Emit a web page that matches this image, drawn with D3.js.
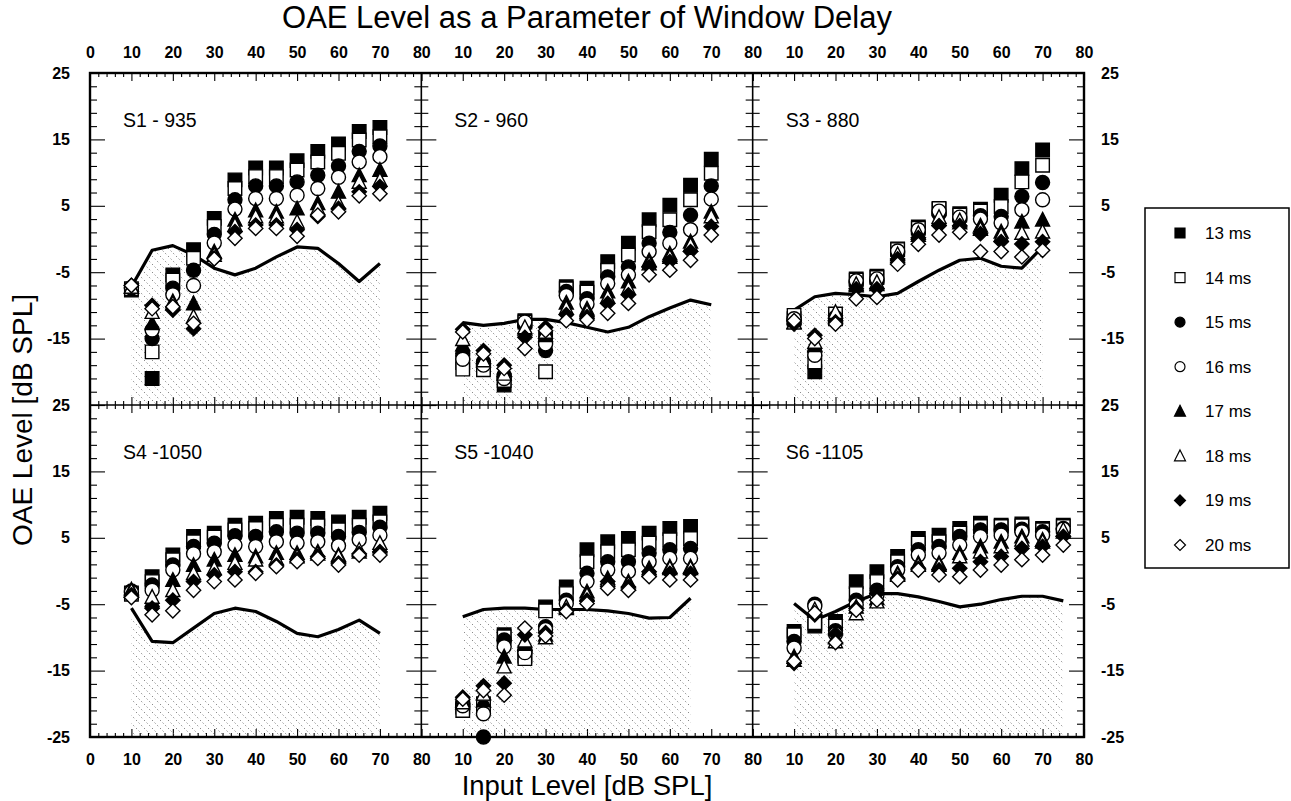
<!DOCTYPE html>
<html><head><meta charset="utf-8">
<script src="https://cdn.jsdelivr.net/npm/d3@7"></script>
<style>
body{margin:0;background:#fff}
svg text{font-family:"Liberation Sans",Arial,sans-serif;fill:#000}
</style>
</head><body>
<svg id="chart" width="1291" height="801"></svg>
<script>
// ---------------- data ----------------
const delays = ["13 ms","14 ms","15 ms","16 ms","17 ms","18 ms","19 ms","20 ms"];
const symbols = ["square","square","circle","circle","triangle","triangle","diamond","diamond"];
const filled  = [true,false,true,false,true,false,true,false];
const xTicks = [0,10,20,30,40,50,60,70,80];
const yTicks = [25,15,5,-5,-15,-25];
const titles = ["S1 - 935","S2 - 960","S3 - 880","S4 -1050","S5 -1040","S6 -1105"];

const lev70 = [10,15,20,25,30,35,40,45,50,55,60,65,70];
const lev65 = [10,15,20,25,30,35,40,45,50,55,60,65];
const lev75 = [10,15,20,25,30,35,40,45,50,55,60,65,70,75];

// series rows: 13,14,15,16,17,18,19,20 ms
const S1 = [
 [-7.7,-21,-5.4,-1.6,3.1,8.9,10.7,10.7,11.8,13.2,14.3,16.2,16.8],
 [-7.5,-17,-6.2,-2.9,1.9,7.6,9.4,9.4,10.4,11.6,12.9,14.9,15.4],
 [-7.4,-15,-7.4,-4.7,0.7,5.9,8.0,8.0,8.6,9.6,11.0,13.2,14.0],
 [-7.3,-13.7,-8.4,-7.0,-0.6,4.5,6.1,6.1,6.6,7.6,9.3,11.6,12.4],
 [-7.2,-12.7,-9.4,-9.7,-1.9,2.9,4.3,4.1,4.6,5.4,7.1,9.6,10.4],
 [-7.2,-11,-9.7,-11.7,-2.4,2.1,3.4,3.4,2.6,4.6,5.4,8.6,8.9],
 [-7.0,-10,-10.7,-13.5,-2.9,1.1,2.1,2.1,1.4,3.4,4.6,7.1,7.9],
 [-7.0,-10.5,-10.2,-12.7,-3.0,0.1,1.6,1.6,0.4,3.6,4.1,6.5,6.8]];
const S1_floor = [-7.2,-1.7,-1.0,-2.4,-4.4,-5.4,-4.4,-2.7,-1.2,-1.4,-3.7,-6.4,-3.7];

const S2 = [
 [-18.6,-19.3,-22.0,-12.3,-15.0,-7.2,-7.4,-3.4,-0.65,2.9,5.1,8.1,12.0],
 [-19.6,-19.7,-21.3,-12.5,-20.0,-7.5,-8.0,-4.7,-2.4,1.1,2.9,5.9,9.9],
 [-17.3,-18.5,-20.5,-13.0,-16.8,-7.9,-9.0,-5.7,-4.2,-0.65,1.0,3.6,8.0],
 [-18.1,-19.0,-21.0,-12.5,-15.8,-8.5,-9.8,-6.7,-5.4,-1.9,-0.65,1.4,6.0],
 [-15.9,-17.8,-19.8,-13.5,-14.5,-9.6,-10.5,-7.9,-6.4,-3.2,-2.2,-0.4,4.1],
 [-15.1,-18.3,-20.3,-13.3,-14.0,-10.4,-11.0,-8.7,-7.4,-3.7,-2.7,-0.9,3.4],
 [-13.6,-16.8,-19.0,-14.8,-13.3,-11.4,-11.7,-9.7,-8.4,-4.2,-3.4,-1.9,1.9],
 [-14.0,-17.3,-19.5,-16.5,-13.8,-12.3,-12.2,-11.2,-9.7,-5.4,-4.7,-3.2,0.6]];
const S2_floor = [-12.6,-13.0,-12.7,-12.1,-12.1,-12.6,-13.3,-14.0,-13.3,-11.7,-10.4,-9.2,-9.9];

const S3 = [
 [-12.0,-20.0,-12.0,-6.0,-5.6,-1.5,1.8,4.5,3.8,4.5,6.6,10.6,13.4],
 [-11.5,-18.5,-11.3,-6.2,-5.8,-1.6,1.6,4.6,3.6,4.2,4.9,8.6,11.1],
 [-12.3,-17.0,-11.8,-6.5,-6.3,-2.0,1.2,3.8,3.0,3.5,3.4,6.4,8.5],
 [-12.0,-17.5,-12.3,-6.3,-6.0,-1.8,1.4,4.2,3.3,3.0,2.4,4.4,5.9],
 [-12.5,-16.0,-11.3,-7.0,-6.8,-2.6,0.6,3.0,2.5,2.0,1.1,2.6,2.9],
 [-12.6,-15.5,-11.0,-6.8,-6.5,-2.3,0.9,3.3,2.8,1.5,0.6,0.9,1.1],
 [-12.8,-14.5,-12.5,-7.5,-7.5,-3.0,0.2,2.0,2.0,0.8,-0.4,-0.75,-0.4],
 [-12.3,-15.0,-12.8,-9.0,-8.8,-3.8,-0.8,0.6,1.0,-1.9,-1.9,-2.7,-1.7]];
const S3_floor = [-10.7,-8.7,-8.2,-8.4,-8.7,-8.2,-6.4,-4.7,-3.2,-2.9,-4.1,-4.4,-1.2];

const S4 = [
 [-3.3,-0.85,2.4,5.2,5.7,6.9,7.2,7.9,8.1,7.9,7.4,8.1,8.7],
 [-3.5,-1.6,1.7,4.4,5.1,6.2,6.4,6.9,6.9,6.8,6.2,6.9,7.4],
 [-3.0,-2.1,0.9,3.7,4.2,5.3,5.2,5.9,5.7,5.7,5.2,5.8,6.6],
 [-3.2,-2.9,0.15,2.6,2.9,3.9,3.7,4.4,4.2,4.4,3.8,4.7,5.4],
 [-2.8,-4.4,-1.35,0.9,1.7,2.4,2.2,2.7,2.7,2.9,2.4,2.9,3.7],
 [-3.0,-3.9,-2.9,-0.35,0.4,1.2,1.7,1.9,2.2,2.6,2.2,3.2,4.2],
 [-3.6,-5.6,-4.4,-1.6,-0.6,-0.1,-0.1,0.9,1.7,2.2,1.2,2.6,2.9],
 [-4.0,-6.6,-6.0,-2.9,-1.6,-1.35,-0.35,0.65,1.4,1.9,0.9,2.4,2.4]];
const S4_floor = [-5.6,-10.6,-10.8,-8.6,-6.4,-5.6,-6.1,-7.6,-9.4,-9.9,-8.8,-7.4,-9.4];

const S5 = [
 [-20.5,-20.0,-9.6,-12.8,-5.4,-2.4,3.2,4.4,4.9,5.7,6.4,6.7],
 [-21.0,-20.5,-9.9,-13.2,-6.0,-3.4,1.4,2.9,3.2,4.2,4.7,4.9],
 [-20.0,-25.0,-10.4,-12.0,-8.4,-4.4,-0.35,1.4,1.4,2.7,3.2,3.4],
 [-20.3,-21.5,-11.4,-12.3,-8.8,-4.9,-1.6,0.15,-0.1,1.4,1.9,1.9],
 [-19.5,-19.5,-12.9,-11.0,-9.6,-5.6,-3.1,-1.1,-1.6,0.4,0.65,0.65],
 [-19.8,-18.5,-14.4,-10.5,-10.0,-5.4,-3.6,-1.35,-1.9,0.15,0.4,0.4],
 [-19.0,-17.3,-16.9,-9.6,-9.3,-5.9,-4.4,-1.6,-2.4,-0.1,-0.35,-0.35],
 [-19.3,-18.0,-18.7,-8.6,-9.8,-6.1,-4.9,-2.6,-2.9,-0.85,-1.35,-1.35]];
const S5_floor = [-6.9,-5.8,-5.6,-5.6,-5.8,-5.8,-5.8,-6.0,-6.4,-7.1,-7.0,-4.1];

const S6 = [
 [-9.1,-8.3,-7.6,-1.6,-0.1,2.2,4.9,5.4,6.4,7.2,6.9,7.1,6.4,6.9],
 [-9.6,-7.8,-8.3,-3.4,-1.6,1.4,4.2,4.4,5.7,6.7,6.7,6.8,6.2,6.7],
 [-10.6,-5.0,-9.0,-4.4,-2.9,0.65,3.2,3.7,5.2,6.2,6.2,6.3,5.9,6.4],
 [-11.6,-5.3,-9.5,-5.1,-3.6,0.15,2.4,2.7,3.9,5.2,5.4,5.9,5.4,6.3],
 [-12.9,-6.0,-10.0,-5.4,-4.1,-0.35,1.2,1.2,2.7,3.7,4.4,5.2,4.7,5.9],
 [-13.4,-5.8,-10.6,-6.4,-4.6,-0.6,0.9,0.9,2.2,2.9,3.7,4.7,4.4,6.2],
 [-13.9,-6.6,-9.5,-5.6,-3.4,-1.1,0.4,0.15,0.4,1.4,2.2,3.4,3.7,5.2],
 [-13.6,-6.3,-10.8,-5.9,-4.4,-1.35,0.15,-0.6,-0.85,0.15,0.9,1.7,2.4,3.9]];
const S6_floor = [-4.9,-7.4,-6.1,-4.6,-3.4,-3.4,-3.9,-4.6,-5.4,-5.0,-4.3,-3.8,-3.8,-4.5];

// ---------------- layout ----------------
const svg = d3.select("#chart");
const X0 = 90, X1 = 1084, Y0 = 73, H = 332;
const W = (X1 - X0) / 3;
const fmt = d => String(d);

const panels = [
 {t:titles[0], lev:lev70, data:S1, floor:S1_floor, col:0, row:0},
 {t:titles[1], lev:lev70, data:S2, floor:S2_floor, col:1, row:0},
 {t:titles[2], lev:lev70, data:S3, floor:S3_floor, col:2, row:0},
 {t:titles[3], lev:lev70, data:S4, floor:S4_floor, col:0, row:1},
 {t:titles[4], lev:lev65, data:S5, floor:S5_floor, col:1, row:1},
 {t:titles[5], lev:lev75, data:S6, floor:S6_floor, col:2, row:1}];

const defs = svg.append("defs");
const pat = defs.append("pattern").attr("id","hatch").attr("patternUnits","userSpaceOnUse")
  .attr("width",8).attr("height",8);
pat.append("line").attr("x1",0).attr("y1",0).attr("x2",8).attr("y2",8)
  .attr("stroke","#666").attr("stroke-width",0.9).attr("stroke-dasharray","1.2 2.57");

function markerPath(type, s){
  const p = d3.path();
  if(type==="square"){ p.rect(-s/2,-s/2,s,s); }
  else if(type==="circle"){ p.moveTo(s/2,0); p.arc(0,0,s/2,0,2*Math.PI); p.closePath(); }
  else if(type==="triangle"){ const h=s*0.9; p.moveTo(0,-h/2-1); p.lineTo(s/2,h/2); p.lineTo(-s/2,h/2); p.closePath(); }
  else { const r=s*0.55; p.moveTo(0,-r); p.lineTo(r,0); p.lineTo(0,r); p.lineTo(-r,0); p.closePath(); }
  return p.toString();
}
const msize = {square:13.5, circle:14, triangle:14, diamond:13};

const tickLayer = svg.append("g");
const dataLayer = svg.append("g");
const frameLayer = svg.append("g");
const textLayer = svg.append("g");

panels.forEach((P,i)=>{
  const px = X0 + P.col*W, py = Y0 + P.row*H;
  const x = d3.scaleLinear().domain([0,80]).range([px, px+W]);
  const y = d3.scaleLinear().domain([-25,25]).range([py+H, py]);
  const cid = "clip"+i;
  defs.append("clipPath").attr("id",cid).append("rect").attr("x",px).attr("y",py).attr("width",W).attr("height",H);

  // ticks (inside)
  const minorX = d3.range(0,81,2), minorY = d3.range(-25,26,2);
  const tk = (axis, tr, vals, len) => {
    const a = tickLayer.append("g").attr("transform",tr).call(axis.tickValues(vals).tickSize(len).tickFormat(""));
    a.select(".domain").remove();
    a.selectAll("line").attr("stroke","#000").attr("stroke-width",1.1);
  };
  tk(d3.axisBottom(x), `translate(0,${py})`, minorX.filter(v=>v%10), 4);
  tk(d3.axisBottom(x), `translate(0,${py})`, xTicks, 8);
  tk(d3.axisTop(x), `translate(0,${py+H})`, minorX.filter(v=>v%10), 4);
  tk(d3.axisTop(x), `translate(0,${py+H})`, xTicks, 8);
  tk(d3.axisRight(y), `translate(${px},0)`, minorY.filter(v=>(v+25)%10), 7);
  tk(d3.axisRight(y), `translate(${px},0)`, yTicks, 15);
  tk(d3.axisLeft(y), `translate(${px+W},0)`, minorY.filter(v=>(v+25)%10), 7);
  tk(d3.axisLeft(y), `translate(${px+W},0)`, yTicks, 15);

  const g = dataLayer.append("g");
  // hatched floor area
  const pts = P.lev.map((l,k)=>[l,P.floor[k]]);
  g.append("path").datum(pts).attr("clip-path",`url(#${cid})`)
    .attr("d", d3.area().x(d=>x(d[0])).y0(y(-25)).y1(d=>y(d[1])))
    .attr("fill","url(#hatch)");
  g.append("path").datum(pts)
    .attr("d", d3.line().x(d=>x(d[0])).y(d=>y(d[1])))
    .attr("fill","none").attr("stroke","#000").attr("stroke-width",3.2).attr("stroke-linejoin","round");

  // panel label
  g.append("text").attr("x",px+33).attr("y",py+54).attr("font-size",19.5).text(P.t);

  // markers
  const mg = svg.append("g").attr("class","markers");
  P.data.forEach((row,si)=>{
    mg.append("g").selectAll("path").data(row).join("path")
      .attr("transform",(d,k)=>`translate(${x(P.lev[k])},${y(d)})`)
      .attr("d", markerPath(symbols[si], msize[symbols[si]]))
      .attr("fill", filled[si] ? "#000" : "#fff")
      .attr("stroke","#000").attr("stroke-width",1.4);
  });

  // tick labels
  const lab = (axis, tr) => {
    const a = textLayer.append("g").attr("transform",tr).call(axis);
    a.select(".domain").remove();
    a.selectAll("text").attr("font-size",16).attr("font-weight","bold")
      .attr("font-family","'Liberation Sans',Arial,sans-serif").attr("fill","#000");
  };
  const xl = P.col===0 ? xTicks : xTicks.filter(v=>v>0);
  if(P.row===0) lab(d3.axisTop(x).tickValues(xl).tickSize(0).tickPadding(15).tickFormat(fmt), `translate(0,${py})`);
  if(P.row===1) lab(d3.axisBottom(x).tickValues(xl).tickSize(0).tickPadding(17).tickFormat(fmt), `translate(0,${py+H})`);
  const yl = P.row===0 ? yTicks.filter(v=>v>-25) : yTicks;
  if(P.col===0) lab(d3.axisLeft(y).tickValues(yl).tickSize(0).tickPadding(20).tickFormat(fmt), `translate(${px},0)`);
  if(P.col===2) lab(d3.axisRight(y).tickValues(yl).tickSize(0).tickPadding(17).tickFormat(fmt), `translate(${px+W},0)`);
});

// frame (below markers)
frameLayer.attr("fill","none").attr("stroke","#000");
frameLayer.append("rect").attr("x",X0).attr("y",Y0).attr("width",X1-X0).attr("height",2*H).attr("stroke-width",2.4);
[1,2].forEach(c=>frameLayer.append("line").attr("x1",X0+c*W).attr("x2",X0+c*W).attr("y1",Y0).attr("y2",Y0+2*H).attr("stroke-width",1.6));
frameLayer.append("line").attr("x1",X0).attr("x2",X1).attr("y1",Y0+H).attr("y2",Y0+H).attr("stroke-width",1.6);
svg.selectAll("g.markers").raise();

// titles
textLayer.append("text").attr("x",(X0+X1)/2).attr("y",28).attr("text-anchor","middle").attr("font-size",31)
  .text("OAE Level as a Parameter of Window Delay");
textLayer.append("text").attr("x",(X0+X1)/2).attr("y",795).attr("text-anchor","middle").attr("font-size",27.5)
  .text("Input Level [dB SPL]");
textLayer.append("text").attr("transform","translate(32,420) rotate(-90)").attr("text-anchor","middle").attr("font-size",28)
  .text("OAE Level [dB SPL]");

// legend
const lg = svg.append("g");
lg.append("rect").attr("x",1145).attr("y",208).attr("width",144).attr("height",360)
  .attr("fill","#fff").attr("stroke","#000").attr("stroke-width",1.5);
const ly = d3.scalePoint().domain(delays).range([233,545]);
delays.forEach((d,i)=>{
  const s = symbols[i];
  lg.append("path").attr("transform",`translate(1180,${ly(d)})`)
    .attr("d", markerPath(s, s==="triangle"?11:10))
    .attr("fill", filled[i] ? "#000" : "#fff").attr("stroke","#000").attr("stroke-width",1.2);
  lg.append("text").attr("x",1205).attr("y",ly(d)).attr("dy","0.35em").attr("font-size",17).text(d);
});
</script>
</body></html>
